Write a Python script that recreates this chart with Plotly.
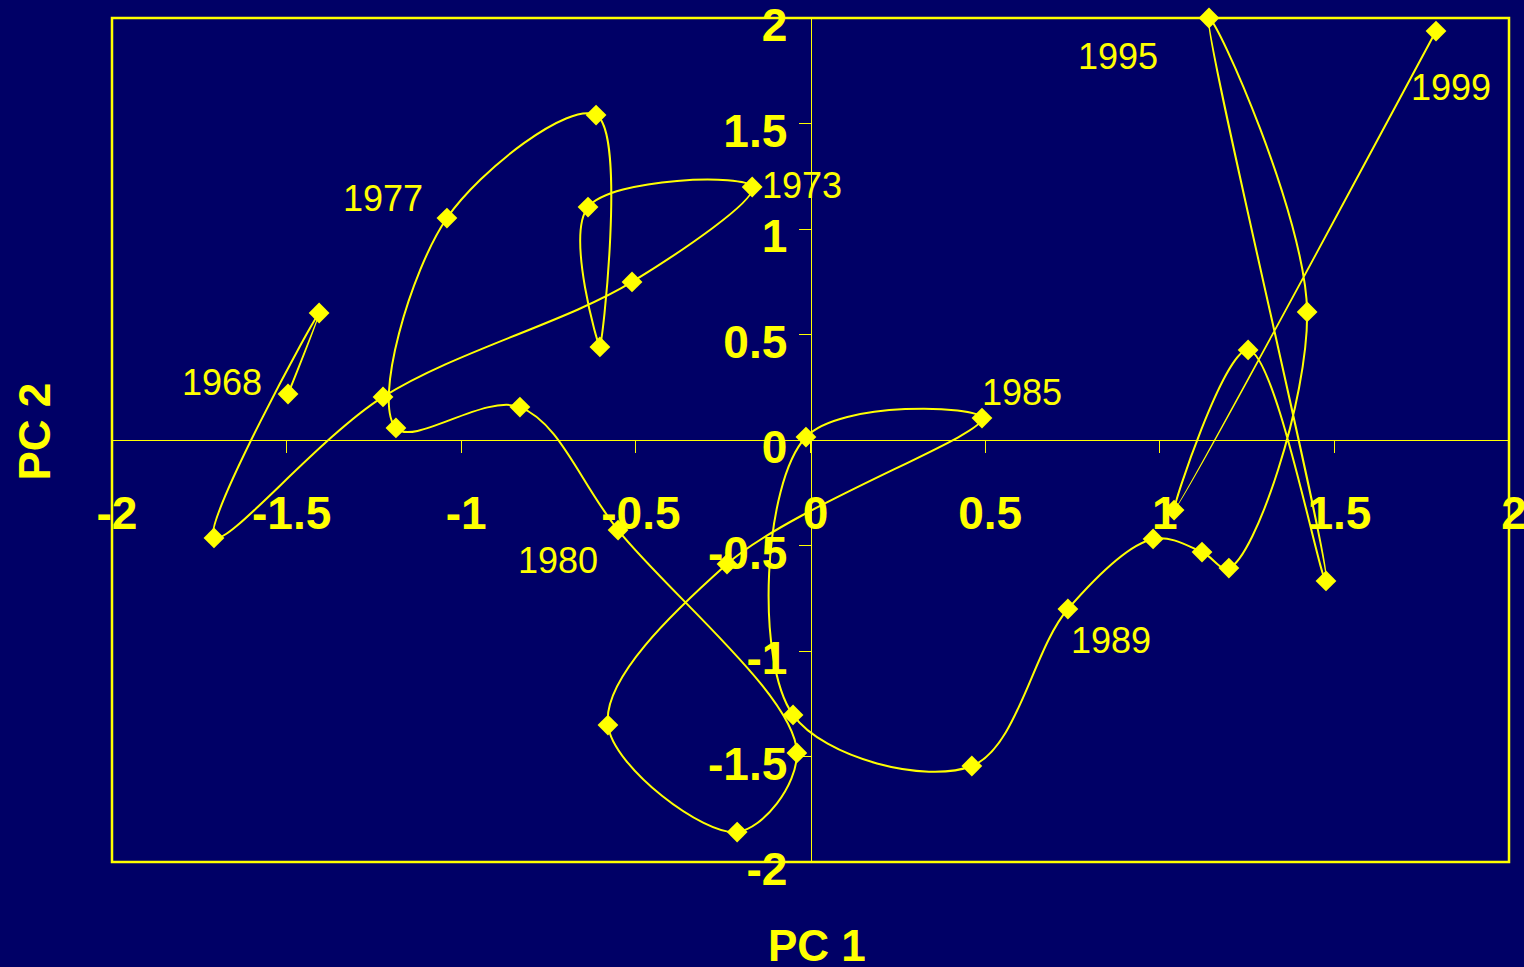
import plotly.graph_objects as go

# ---- data ----
pc1 = [-1.496, -1.407, -1.708, -1.224, -0.511, -0.167, -0.637, -0.603, -0.614, -1.041,
       -1.187, -0.832, -0.551, -0.039, -0.210, -0.580, -0.239, 0.491, -0.013, -0.050,
       0.462, 0.737, 0.981, 1.121, 1.198, 1.422, 1.141, 1.476, 1.253, 1.041, 1.791]
pc2 = [0.218, 0.602, -0.464, 0.204, 0.749, 1.199, 1.104, 0.441, 1.540, 1.052,
       0.057, 0.156, -0.427, -1.483, -1.858, -1.351, -0.588, 0.104, 0.014, -1.303,
       -1.545, -0.801, -0.469, -0.531, -0.607, 0.607, 2.000, -0.668, 0.427, -0.332, 1.938]

label_text = ["1968", "1973", "1977", "1980", "1985", "1989", "1995", "1999"]
label_index = [0, 5, 9, 12, 17, 21, 26, 30]

tick_vals = [-2, -1.5, -1, -0.5, 0, 0.5, 1, 1.5, 2]
tick_text = ["-2", "-1.5", "-1", "-0.5", "0", "0.5", "1", "1.5", "2"]

# ---- styling ----
BG = "#000066"
YEL = "#FFFF00"
FONT = "Liberation Sans, Arial, sans-serif"
label_shift = {  # pixel offsets of year labels from their points
    "1968": (-66, 12), "1973": (50, 2), "1977": (-64, 20), "1980": (-60, -30),
    "1985": (40, 26), "1989": (43, -31), "1995": (-91, -38), "1999": (15, -56),
}

fig = go.Figure()
fig.add_trace(go.Scatter(
    x=pc1, y=pc2, mode="lines+markers",
    line=dict(color=YEL, width=2, shape="spline", smoothing=1),
    marker=dict(symbol="diamond", size=16, color=YEL),
    cliponaxis=False, showlegend=False, hoverinfo="x+y",
))

annotations = []
for txt, i in zip(label_text, label_index):
    dx, dy = label_shift[txt]
    annotations.append(dict(
        x=pc1[i], y=pc2[i], xref="x", yref="y", text=txt, showarrow=False,
        xshift=dx, yshift=dy, xanchor="center", yanchor="middle",
        font=dict(family=FONT, size=36, color=YEL),
    ))
annotations.append(dict(x=0.505, y=0.0, xref="paper", yref="paper", yshift=-83,
                        text="<b>PC 1</b>", showarrow=False, xanchor="center", yanchor="middle",
                        font=dict(family=FONT, size=44, color=YEL)))
annotations.append(dict(x=0, y=0.51, xref="paper", yref="paper", xshift=-77,
                        text="<b>PC 2</b>", showarrow=False, textangle=-90,
                        xanchor="center", yanchor="middle",
                        font=dict(family=FONT, size=44, color=YEL)))

axis_common = dict(
    range=[-2, 2], showgrid=False, zeroline=False,
    showline=True, linecolor=YEL, linewidth=1,
    ticks="outside", ticklen=12, tickwidth=1, tickcolor=YEL,
    tickvals=tick_vals, ticktext=tick_text,
    tickfont=dict(family=FONT, size=46, color=YEL, weight="bold"),
    ticklabeloverflow="allow", automargin=False,
    anchor="free", position=0.5, fixedrange=True,
)

fig.update_layout(
    width=1524, height=967,
    margin=dict(l=112, r=15, t=18, b=105, autoexpand=False),
    paper_bgcolor=BG, plot_bgcolor=BG,
    xaxis=dict(**axis_common, ticklabelstandoff=21, ticklabelshift=5),
    yaxis=dict(**axis_common, ticklabelstandoff=2, ticklabelshift=7),
    annotations=annotations,
    shapes=[dict(type="rect", xref="paper", yref="paper", x0=0, x1=1, y0=0, y1=1,
                 line=dict(color=YEL, width=2.5), layer="above")],
    showlegend=False,
)

fig.write_html(
    "out.html",
    config={"displayModeBar": False},
    post_script="document.body.style.margin='0';document.body.style.background='#000066';"
                "document.body.style.overflow='hidden';",
)
